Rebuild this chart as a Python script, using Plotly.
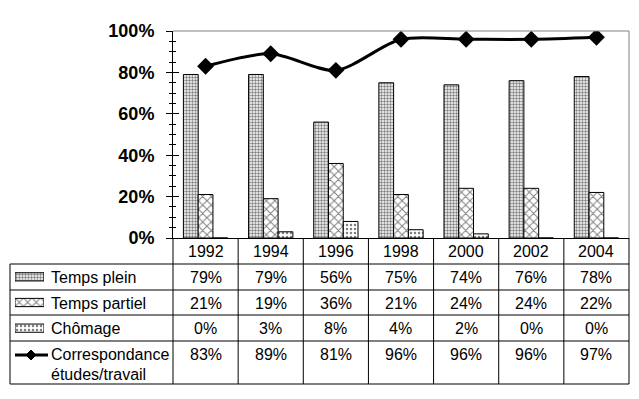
import plotly.graph_objects as go

years = ["1992", "1994", "1996", "1998", "2000", "2002", "2004"]
temps_plein = [79, 79, 56, 75, 74, 76, 78]
temps_partiel = [21, 19, 36, 21, 24, 24, 22]
chomage = [0, 3, 8, 4, 2, 0, 0]
correspondance = [83, 89, 81, 96, 96, 96, 97]
y_ticks = [0, 20, 40, 60, 80, 100]

W, H = 639, 399
FONT = "Liberation Sans, Arial, sans-serif"

def px(x):
    return x / W

def py(y):
    return 1 - y / H

# plot area in pixels
PL, PR, PT, PB = 173, 629, 31, 238
# table rows (pixels)
row_lines = [264, 290, 315, 341, 384]
TL = 10

fig = go.Figure()

bar_series = [
    ("Temps plein", temps_plein, dict(shape=".", size=3, solidity=0.5)),
    ("Temps partiel", temps_partiel, dict(shape="x", size=6, solidity=0.3)),
    ("Chômage", chomage, dict(shape=".", size=4, solidity=0.3)),
]
for name, vals, pat in bar_series:
    fig.add_trace(go.Bar(
        x=years, y=[v / 100 for v in vals], name=name,
        marker=dict(color="white", line=dict(color="black", width=1),
                    pattern=dict(fgcolor="black", bgcolor="white", fillmode="overlay", **pat)),
        xaxis="x", yaxis="y", showlegend=False,
    ))

fig.add_trace(go.Scatter(
    x=years, y=[v / 100 for v in correspondance], name="Correspondance études/travail",
    mode="lines+markers", line=dict(color="black", width=3, shape="spline", smoothing=0.8),
    marker=dict(symbol="diamond", size=13, color="black"),
    xaxis="x", yaxis="y", showlegend=False,
))

# legend key boxes (hidden axes in the table label column)
key_names = ["Temps plein", "Temps partiel", "Chômage"]
for name, vals, pat in bar_series:
    fig.add_trace(go.Bar(
        y=[name], x=[1], orientation="h", width=0.32,
        marker=dict(color="white", line=dict(color="black", width=1),
                    pattern=dict(fgcolor="black", bgcolor="white", fillmode="overlay", **pat)),
        xaxis="x3", yaxis="y3", showlegend=False, hoverinfo="skip",
    ))

fig.update_layout(
    width=W, height=H,
    margin=dict(l=0, r=0, t=0, b=0, pad=0, autoexpand=False),
    paper_bgcolor="white", plot_bgcolor="white",
    barmode="group", bargap=0.32, bargroupgap=0,
    font=dict(family=FONT, color="black"),
    xaxis=dict(domain=[px(PL), px(PR)], type="category", range=[-0.5, 6.5],
               showticklabels=False, ticks="", showline=True, linecolor="black",
               linewidth=1, showgrid=False, zeroline=False, fixedrange=True),
    yaxis=dict(domain=[py(PB), py(PT)], range=[0, 1], tickvals=[t / 100 for t in y_ticks],
               ticktext=[f"{t}%" for t in y_ticks],
               tickfont=dict(size=18, family=FONT, weight="bold"),
               ticks="outside", ticklen=6, tickcolor="black", tickwidth=1,
               minor=dict(dtick=0.05, ticks="outside", ticklen=3, tickcolor="black", tickwidth=1),
               showline=True, linecolor="black", linewidth=1, showgrid=False,
               zeroline=False, ticklabelstandoff=8),
    yaxis2=dict(domain=[py(PB), py(PT)], range=[0, 1], overlaying="y", anchor="x",
                tickvals=[t / 100 for t in y_ticks], showticklabels=False,
                ticks="inside", ticklen=6, tickcolor="black", tickwidth=1,
                minor=dict(dtick=0.05, ticks="inside", ticklen=3, tickcolor="black", tickwidth=1),
                showgrid=False, zeroline=False, showline=False),
    xaxis3=dict(domain=[px(15), px(44)], range=[0, 1], visible=False, anchor="y3"),
    yaxis3=dict(domain=[py(341), py(264)], type="category", range=[2.5, -0.5],
                categoryorder="array", categoryarray=key_names, visible=False, anchor="x3"),
)

# invisible trace so the inner-tick overlay axis renders
fig.add_trace(go.Scatter(x=[years[0]], y=[0], yaxis="y2", xaxis="x", mode="markers",
                         marker=dict(opacity=0), showlegend=False, hoverinfo="skip"))

shapes = []
def line(x0, y0, x1, y1, color="black", width=1):
    shapes.append(dict(type="line", xref="paper", yref="paper",
                       x0=px(x0), y0=py(y0), x1=px(x1), y1=py(y1),
                       line=dict(color=color, width=width)))

# gray top and right border of plot area
line(PL, PT, PR, PT, color="#808080")
line(PR, PT, PR, PB, color="#808080")

# table horizontal lines
for r in row_lines:
    line(TL, r, PR, r)
# vertical lines
line(TL, row_lines[0], TL, row_lines[-1])
n = len(years)
cw = (PR - PL) / n
for i in range(n + 1):
    line(PL + i * cw, PB, PL + i * cw, row_lines[-1])

# line legend key
line(15, 355, 48, 355, width=3)
dx, dy = 5, 5
cx, cy = 31, 355
shapes.append(dict(type="path", xref="paper", yref="paper",
                   path=f"M {px(cx - dx)} {py(cy)} L {px(cx)} {py(cy - dy)} L {px(cx + dx)} {py(cy)} L {px(cx)} {py(cy + dy)} Z",
                   fillcolor="black", line=dict(color="black", width=1)))

fig.update_layout(shapes=shapes)

annotations = []
def text(x, y, s, xanchor="center", size=16):
    annotations.append(dict(x=px(x), y=py(y), xref="paper", yref="paper", text=s,
                            showarrow=False, xanchor=xanchor, yanchor="middle",
                            font=dict(size=size, family=FONT, color="black")))

centers = [PL + (i + 0.5) * cw for i in range(n)]
rows = [temps_plein, temps_partiel, chomage, correspondance]
row_y = [277, 303, 328, 354]
for i, yr in enumerate(years):
    text(centers[i], 251, yr)
    for vals, yy in zip(rows, row_y):
        text(centers[i], yy, f"{vals[i]}%")

text(49, 277, "Temps plein", xanchor="left")
text(49, 303, "Temps partiel", xanchor="left")
text(49, 328, "Chômage", xanchor="left")
text(49, 354, "Correspondance", xanchor="left")
text(49, 374, "études/travail", xanchor="left")

fig.update_layout(annotations=annotations)

fig.write_html("out.html", config={"displayModeBar": False, "staticPlot": True},
               post_script="document.body.style.margin='0';")
